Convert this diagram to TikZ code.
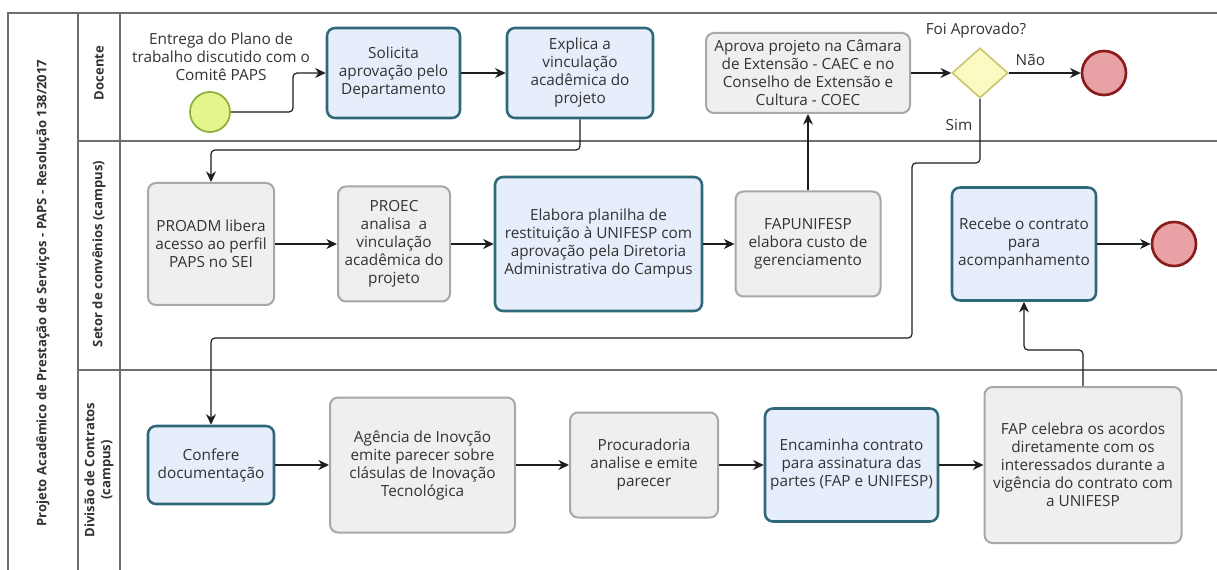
\documentclass[tikz,border=0pt]{standalone}
\usepackage{fontspec}
\setmainfont{Open Sans}
\usetikzlibrary{arrows.meta,shapes.geometric}
\definecolor{bluefill}{HTML}{E6EEFB}
\definecolor{blueedge}{HTML}{2F6878}
\definecolor{grayfill}{HTML}{EFEFEF}
\definecolor{grayedge}{HTML}{A8A8A8}
\definecolor{startfill}{HTML}{E4F58C}
\definecolor{startedge}{HTML}{8CB03A}
\definecolor{endfill}{HTML}{E8A2A6}
\definecolor{endedge}{HTML}{8A1C1C}
\definecolor{gwfill}{HTML}{FAFAC2}
\definecolor{gwedge}{HTML}{C8C66A}
\definecolor{framec}{HTML}{6E6E6E}
\definecolor{flowc}{HTML}{1E1E1E}
\definecolor{txt}{HTML}{333333}
\tikzset{
  sz/.style 2 args={minimum width=#1*0.75pt, minimum height=#2*0.75pt},
  task/.style={rectangle, rounded corners=6pt, align=center, text=txt,
    font=\fontsize{11.5}{13.5}\selectfont, inner sep=1pt},
  bluetask/.style={task, fill=bluefill, draw=blueedge, line width=1.9pt},
  graytask/.style={task, fill=grayfill, draw=grayedge, line width=1.5pt},
  lbl/.style={align=center, text=txt, font=\fontsize{11.5}{13.5}\selectfont, inner sep=0pt},
  lanetitle/.style={rotate=90, align=center, text=txt, font=\fontsize{9.8}{12}\selectfont\bfseries, inner sep=0pt},
  frame/.style={draw=framec, line width=1.1pt},
  flow/.style={draw=flowc, line width=0.9pt, rounded corners=3pt, -{Stealth[length=8pt,width=7.5pt]}},
  startev/.style={circle, minimum size=40*0.75pt, inner sep=0pt, fill=startfill, draw=startedge, line width=1.3pt},
  endev/.style={circle, minimum size=44*0.75pt, inner sep=0pt, fill=endfill, draw=endedge, line width=2pt},
  gateway/.style={diamond, minimum width=56*0.75pt, minimum height=50*0.75pt, inner sep=0pt, fill=gwfill, draw=gwedge, line width=1.2pt}
}
\begin{document}
\begin{tikzpicture}[x=0.75pt,y=-0.75pt]
\useasboundingbox[fill=white] (0,0) rectangle (1217,570);
% pool and lanes
\draw[frame] (8,570) -- (8,13) -- (1217,13);
\draw[frame] (78,13) -- (78,570);
\draw[frame] (120,13) -- (120,570);
\draw[frame] (78,141) -- (1217,141);
\draw[frame] (78,370) -- (1217,370);
\node[lanetitle] (pool) at (43,293) {Projeto Acadêmico de Prestação de Serviços - PAPS - Resolução 138/2017};
\node[lanetitle] (lane1) at (99,73) {Docente};
\node[lanetitle] (lane2) at (99,254) {Setor de convênios (campus)};
\node[lanetitle] (lane3) at (99,470) {Divisão de Contratos\\(campus)};

% lane 1
\node[startev] (start) at (210,112) {};
\node[lbl] (entrega) at (221,57) {Entrega do Plano de\\trabalho discutido com o\\Comitê PAPS};
\node[bluetask, sz={133}{90}] (solicita) at (393.5,73) {Solicita\\aprovação pelo\\Departamento};
\node[bluetask, sz={146}{90}] (explica) at (580,73) {Explica a\\vinculação\\acadêmica do\\projeto};
\node[graytask, sz={204}{80}] (aprova) at (808,73) {Aprova projeto na Câmara\\de Extensão - CAEC e no\\Conselho de Extensão e\\Cultura - COEC};
\node[gateway] (gw) at (980,73) {};
\node[lbl] (gwlabel) at (976,31) {Foi Aprovado?};
\node[endev] (end1) at (1104,73) {};

% lane 2
\node[graytask, sz={126}{122}] (proadm) at (211,244) {PROADM libera\\acesso ao perfil\\PAPS no SEI};
\node[graytask, sz={112}{115}] (proec) at (394,244) {PROEC\\analisa\ \ a\\vinculação\\acadêmica do\\projeto};
\node[bluetask, sz={207}{134}] (elabora) at (598.5,244) {Elabora planilha de\\restituição à UNIFESP com\\aprovação pela Diretoria\\Administrativa do Campus};
\node[graytask, sz={145}{105}] (fapunifesp) at (808,244) {FAPUNIFESP\\elabora custo de\\gerenciamento};
\node[bluetask, sz={144}{113}] (recebe) at (1024,244) {Recebe o contrato\\para\\acompanhamento};
\node[endev] (end2) at (1174,244) {};

% lane 3
\node[bluetask, sz={126}{78}] (confere) at (211,465) {Confere\\documentação};
\node[graytask, sz={185}{135}] (agencia) at (422.5,465) {Agência de Inovção\\emite parecer sobre\\clásulas de Inovação\\Tecnológica};
\node[graytask, sz={148}{105}] (procuradoria) at (644,465) {Procuradoria\\analise e emite\\parecer};
\node[bluetask, sz={173}{113}] (encaminha) at (851.5,465) {Encaminha contrato\\para assinatura das\\partes (FAP e UNIFESP)};
\node[graytask, sz={197}{156}] (fap) at (1083,465) {FAP celebra os acordos\\diretamente com os\\interessados durante a\\vigência do contrato com\\a UNIFESP};

% connectors
\draw[flow] (start.east) -- (293,112) -- (293,73) -- (solicita.west);
\draw[flow] (solicita.east) -- (explica.west);
\draw[flow] (explica.south) -- (580,150) -- (211,150) -- (proadm.north);
\draw[flow] (proadm.east) -- (proec.west);
\draw[flow] (proec.east) -- (elabora.west);
\draw[flow] (elabora.east) -- (fapunifesp.west);
\draw[flow] (fapunifesp.north) -- (aprova.south);
\draw[flow] (aprova.east) -- (gw.west);
\draw[flow] (gw.east) -- node[lbl, above=5pt, pos=0.3] (nao) {Não} (end1.west);
\draw[flow] (gw.south) -- (980,163) -- (912,163) -- (912,338) -- (211,338) -- (confere.north);
\node[lbl] (sim) at (959,125) {Sim};
\draw[flow] (confere.east) -- (agencia.west);
\draw[flow] (agencia.east) -- (procuradoria.west);
\draw[flow] (procuradoria.east) -- (encaminha.west);
\draw[flow] (encaminha.east) -- (fap.west);
\draw[flow] (fap.north) -- (1083,350) -- (1024,350) -- (recebe.south);
\draw[flow] (recebe.east) -- (end2.west);
\end{tikzpicture}
\end{document}
